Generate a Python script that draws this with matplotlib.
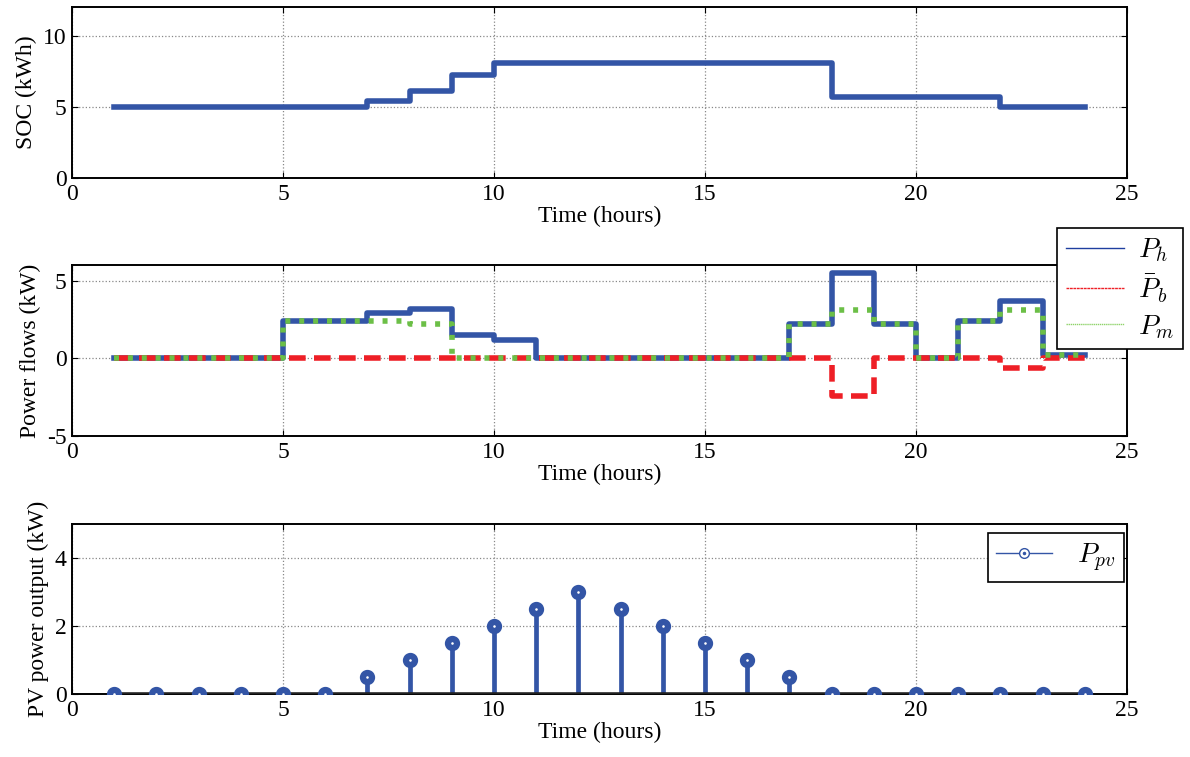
import matplotlib
matplotlib.use("Agg")
import matplotlib.pyplot as plt
from matplotlib.lines import Line2D
import numpy as np

plt.rcParams['font.family'] = ['Liberation Serif', 'DejaVu Serif']
plt.rcParams['mathtext.fontset'] = 'cm'
plt.rcParams['axes.unicode_minus'] = False

hours = list(range(1, 25))
soc = [5, 5, 5, 5, 5, 5, 5.4, 6.1, 7.2, 8.1, 8.1, 8.1, 8.1, 8.1, 8.1, 8.1, 8.1,
       5.7, 5.7, 5.7, 5.7, 5.0, 5.0, 5.0]
p_h = [0, 0, 0, 0, 2.4, 2.4, 2.9, 3.2, 1.5, 1.2, 0, 0, 0, 0, 0, 0, 2.2, 5.5, 2.2,
       0, 2.4, 3.7, 0.2, 0.2]
p_b = [0, 0, 0, 0, 0, 0, 0, 0, 0, 0, 0, 0, 0, 0, 0, 0, 0, -2.4, 0, 0, 0, -0.6, 0, 0]
p_m = [0, 0, 0, 0, 2.4, 2.4, 2.4, 2.2, 0, 0, 0, 0, 0, 0, 0, 0, 2.2, 3.1, 2.2,
       0, 2.4, 3.1, 0.2, 0.2]
p_pv = [0, 0, 0, 0, 0, 0, 0.5, 1.0, 1.5, 2.0, 2.5, 3.0, 2.5, 2.0, 1.5, 1.0, 0.5,
        0, 0, 0, 0, 0, 0, 0]

blue = '#3355a6'
red = '#ee1f26'
green = '#6cbf47'
FS = 17
LW = 4.0

fig = plt.figure(figsize=(11.9, 7.57), dpi=100)
L, W = 72 / 1190, 1055 / 1190
ax1 = fig.add_axes([L, 1 - 178 / 757, W, 171 / 757])
ax2 = fig.add_axes([L, 1 - 436 / 757, W, 171 / 757])
ax3 = fig.add_axes([L, 1 - 694 / 757, W, 170 / 757])


def style(ax, yt, ylim):
    ax.set_xlim(0, 25)
    ax.set_ylim(*ylim)
    ax.set_xticks(range(0, 26, 5))
    ax.set_yticks(yt)
    ax.tick_params(direction='in', top=True, right=True, labelsize=FS,
                   length=4, width=0.8, pad=4)
    ax.grid(True, color='#888888', linestyle=':', linewidth=0.9)
    ax.set_axisbelow(True)
    for s in ax.spines.values():
        s.set_linewidth(1.4)
    ax.set_xlabel('Time (hours)', fontsize=FS, labelpad=1)


# SOC
ax1.step(hours, soc, where='post', color=blue, linewidth=LW)
style(ax1, [0, 5, 10], (0, 12))
ax1.set_ylabel('SOC (kWh)', fontsize=FS, labelpad=4)

# Power flows
ax2.step(hours, p_h, where='post', color=blue, linewidth=LW)
ax2.step(hours, p_b, where='post', color=red, linewidth=LW, linestyle=(0, (3, 1.5)))
ax2.step(hours, p_m, where='post', color=green, linewidth=LW, linestyle=(0, (0.9, 1.6)))
style(ax2, [-5, 0, 5], (-5, 6))
ax2.set_ylabel('Power flows (kW)', fontsize=FS, labelpad=4)
handles = [Line2D([], [], color='#1f3f9f', lw=1),
           Line2D([], [], color=red, lw=1, linestyle=(0, (2, 0.5))),
           Line2D([], [], color='#8fd36a', lw=1, linestyle=(0, (1, 0.5)))]
leg = ax2.legend(handles, [r'$P_h$', r'$\bar{P}_b$', r'$P_m$'],
                 loc='upper left', bbox_to_anchor=(0.934, 1.216),
                 fontsize=20, frameon=True, fancybox=False, framealpha=1,
                 edgecolor='black', handlelength=2.1, handletextpad=0.5,
                 borderpad=0.3, labelspacing=0.3, borderaxespad=0)
leg.get_frame().set_linewidth(1.2)

# PV
ml, sl, bl = ax3.stem(hours, p_pv, linefmt='-', markerfmt='o', basefmt='k-')
plt.setp(sl, color=blue, linewidth=3.4)
plt.setp(ml, color=blue, markersize=6.5, markeredgewidth=4.5,
         markerfacecolor='white', markeredgecolor=blue, zorder=4)
plt.setp(bl, color='#222222', linewidth=2.6, zorder=3)
style(ax3, [0, 2, 4], (0, 5))
ax3.set_ylabel('PV power output (kW)', fontsize=FS, labelpad=4)
h_pv = Line2D([], [], color=blue, lw=1, marker='o', markersize=7,
              markerfacecolor='white', markeredgecolor=blue, markeredgewidth=1)
h_dot = Line2D([], [], color=blue, lw=0, marker='.', markersize=3)
leg3 = ax3.legend([(h_pv, h_dot)], [r'$P_{pv}$'], loc='upper left',
                  bbox_to_anchor=(0.868, 0.947), fontsize=20, frameon=True,
                  fancybox=False, framealpha=1, edgecolor='black',
                  handlelength=2.0, handletextpad=0.9, borderpad=0.3,
                  borderaxespad=0)
leg3.get_frame().set_linewidth(1.2)

fig.savefig('out.png', dpi=100)
